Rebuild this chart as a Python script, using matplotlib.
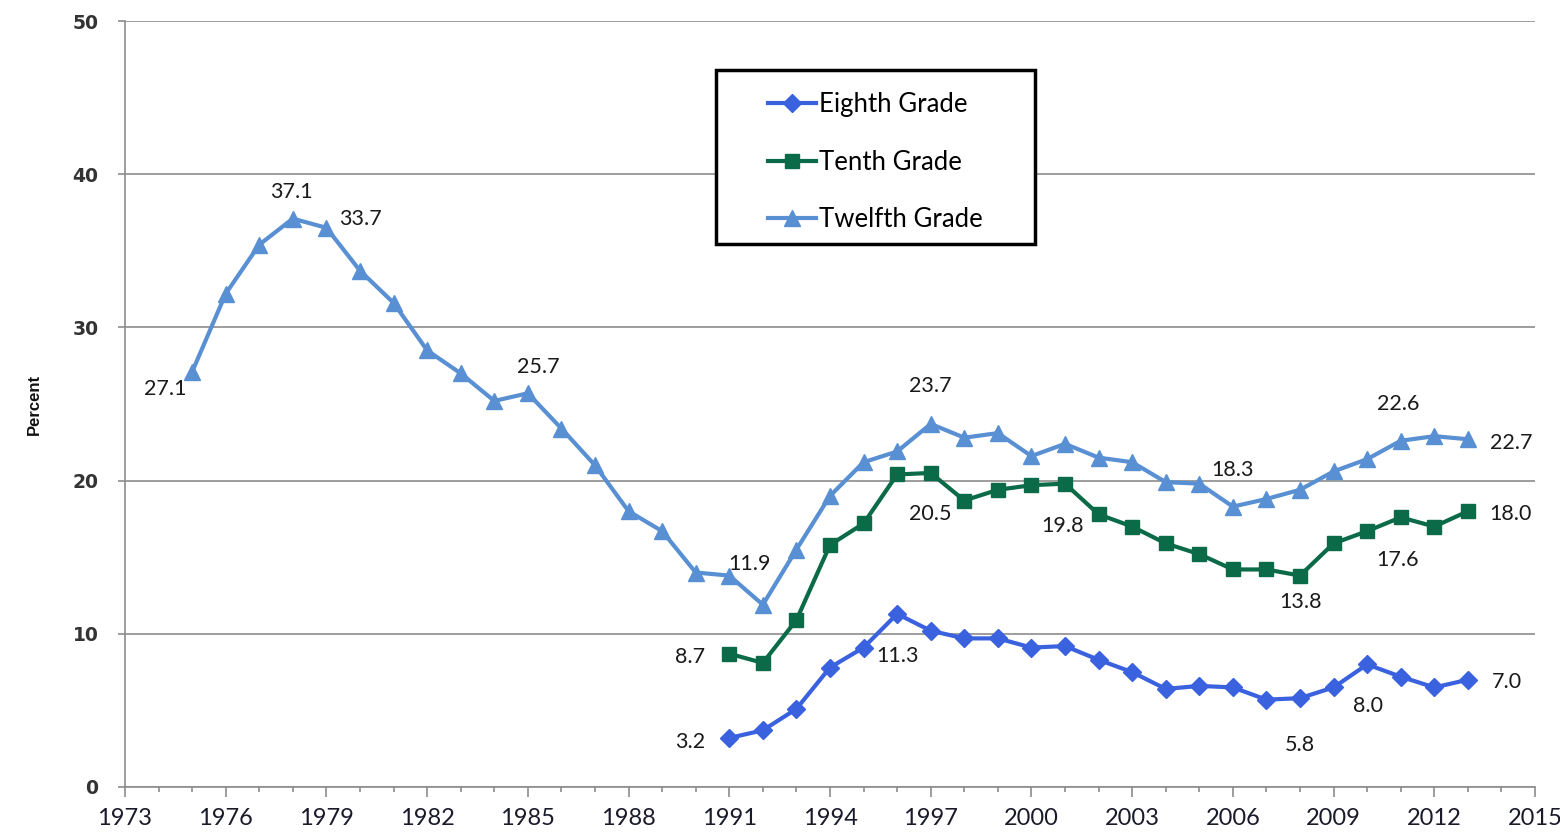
import numpy as np
import matplotlib.pyplot as plt
from matplotlib.patches import Rectangle
from matplotlib.ticker import FixedLocator, MultipleLocator

################################################################
# data:
years_12 = list(range(1975, 2014))
twelfth = [27.1, 32.2, 35.4, 37.1, 36.5, 33.7, 31.6, 28.5, 27.0, 25.2,
           25.7, 23.4, 21.0, 18.0, 16.7, 14.0, 13.8, 11.9, 15.5, 19.0,
           21.2, 21.9, 23.7, 22.8, 23.1, 21.6, 22.4, 21.5, 21.2, 19.9,
           19.8, 18.3, 18.8, 19.4, 20.6, 21.4, 22.6, 22.9, 22.7]

years_8_10 = list(range(1991, 2014))
tenth = [8.7, 8.1, 10.9, 15.8, 17.2, 20.4, 20.5, 18.7, 19.4, 19.7,
         19.8, 17.8, 17.0, 15.9, 15.2, 14.2, 14.2, 13.8, 15.9, 16.7,
         17.6, 17.0, 18.0]
eighth = [3.2, 3.7, 5.1, 7.8, 9.1, 11.3, 10.2, 9.7, 9.7, 9.1,
          9.2, 8.3, 7.5, 6.4, 6.6, 6.5, 5.7, 5.8, 6.5, 8.0,
          7.2, 6.5, 7.0]

series_names = ['Eighth Grade', 'Tenth Grade', 'Twelfth Grade']
x_ticks = list(range(1973, 2016, 3))

# data labels as printed on the chart: (series, year, text)
label_series = ['12', '12', '12', '12', '12', '12', '12', '12', '12',
                '10', '10', '10', '10', '10', '10',
                '8', '8', '8', '8', '8']
label_years = [1975, 1978, 1979, 1985, 1992, 1997, 2006, 2011, 2013,
               1991, 1997, 2001, 2008, 2011, 2013,
               1991, 1996, 2008, 2010, 2013]
label_texts = ['27.1', '37.1', '33.7', '25.7', '11.9', '23.7', '18.3', '22.6', '22.7',
               '8.7', '20.5', '19.8', '13.8', '17.6', '18.0',
               '3.2', '11.3', '5.8', '8.0', '7.0']
# offsets of label centre from the point, in pixels
label_offsets = [(-27, -17), (-1, 27), (34, 9), (10, 26), (-13, 41), (0, 38), (0, 37), (-3, 37), (43, -4),
                 (-39, -3), (0, -41), (-2, -42), (1, -26), (-3, -43), (43, -3),
                 (-39, -4), (0, -42), (0, -47), (1, -42), (39, -2)]

################################################################
# plot:
c8 = '#3b62de'
c10 = '#0b6b48'
c12 = '#5890d3'

fig = plt.figure(figsize=(15.6, 8.39), dpi=100)
ax = fig.add_axes([125/1560, 1-787/839, 1410/1560, 766/839])

l8, = ax.plot(years_8_10, eighth, color=c8, linewidth=3, marker='D', markersize=9,
              markeredgecolor=c8, zorder=4)
l10, = ax.plot(years_8_10, tenth, color=c10, linewidth=3, marker='s', markersize=10,
               markeredgecolor=c10, zorder=4)
l12, = ax.plot(years_12, twelfth, color=c12, linewidth=3, marker='^', markersize=12,
               markeredgecolor=c12, zorder=4)

lookup = {'8': (years_8_10, eighth), '10': (years_8_10, tenth), '12': (years_12, twelfth)}
for s, yr, txt, (dx, dy) in zip(label_series, label_years, label_texts, label_offsets):
    xs, vs = lookup[s]
    v = vs[xs.index(yr)]
    ax.annotate(txt, (yr, v), xytext=(dx, dy), textcoords='offset pixels',
                ha='center', va='center', fontsize=15.5, family='Lato',
                color='#1a1a1a', zorder=5)

ax.set_xlim(1973, 2015)
ax.set_ylim(0, 50)
ax.xaxis.set_major_locator(FixedLocator(x_ticks))
ax.xaxis.set_minor_locator(MultipleLocator(1))
ax.yaxis.set_major_locator(MultipleLocator(10))
ax.grid(True, axis='y', color='#8c8c8c', linewidth=1.2)
ax.set_axisbelow(True)

for sp in ['top', 'right']:
    ax.spines[sp].set_visible(False)
for sp in ['left', 'bottom']:
    ax.spines[sp].set_color('#8c8c8c')
    ax.spines[sp].set_linewidth(1.2)

ax.tick_params(axis='x', which='major', length=7, width=1.2, color='#8c8c8c',
               labelsize=17, pad=8, labelcolor='#1a1a2a')
ax.tick_params(axis='x', which='minor', length=3.5, width=1.2, color='#8c8c8c')
ax.tick_params(axis='y', length=5, width=1.2, color='#8c8c8c', labelsize=13.5,
               pad=14, labelcolor='#333333')
for t in ax.get_xticklabels():
    t.set_family('Lato')
for t in ax.get_yticklabels():
    t.set_family('DejaVu Sans')
    t.set_fontweight('bold')

ax.set_ylabel('Percent', fontsize=12, fontweight='bold',
              family='Liberation Sans', labelpad=22, color='#111111')

# legend with a square black frame
ax.add_patch(Rectangle((591/1410, (787-244)/766), 319/1410, 174/766,
                       transform=ax.transAxes, facecolor='white', edgecolor='black',
                       linewidth=2.5, zorder=6))
leg = ax.legend([l8, l10, l12], series_names, loc='upper left',
                bbox_to_anchor=((768-125)/1410, (787-92)/766), frameon=False,
                borderpad=0, borderaxespad=0, handlelength=1.85, handletextpad=0.15,
                labelspacing=1.27, prop={'family': 'Lato', 'size': 18.5})
leg.set_zorder(7)

plt.savefig('out.png', dpi=100)
plt.close()
